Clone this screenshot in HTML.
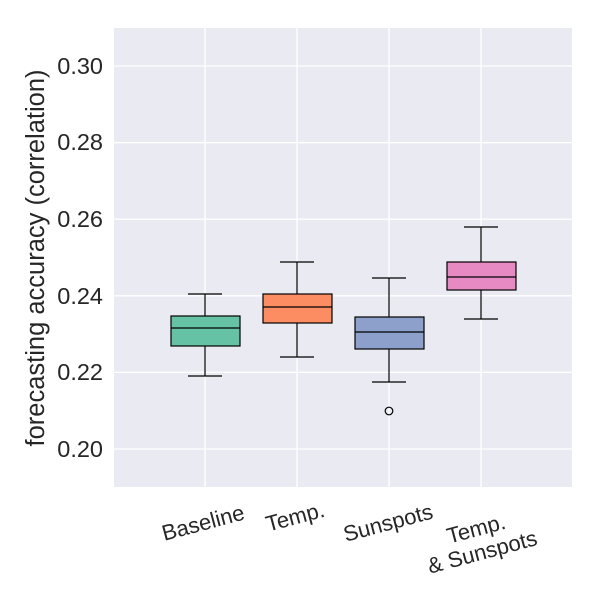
<!DOCTYPE html>
<html><head><style>body{margin:0;background:#fff}</style></head><body>
<svg width="600" height="600" xmlns="http://www.w3.org/2000/svg" font-family="Liberation Sans, sans-serif">
<rect x="114" y="28" width="458" height="459" fill="#eaeaf2"/>
<g stroke="#fff" stroke-width="1.3">
<line x1="114" x2="572" y1="66" y2="66"/><line x1="114" x2="572" y1="142.6" y2="142.6"/>
<line x1="114" x2="572" y1="219.2" y2="219.2"/><line x1="114" x2="572" y1="295.8" y2="295.8"/>
<line x1="114" x2="572" y1="372.4" y2="372.4"/><line x1="114" x2="572" y1="449" y2="449"/>
<line x1="205" x2="205" y1="28" y2="487"/><line x1="297" x2="297" y1="28" y2="487"/>
<line x1="389" x2="389" y1="28" y2="487"/><line x1="481" x2="481" y1="28" y2="487"/>
</g>
<g font-size="23.5" fill="#262626" text-anchor="end">
<text x="103" y="74">0.30</text><text x="103" y="150">0.28</text><text x="103" y="227">0.26</text>
<text x="103" y="304">0.24</text><text x="103" y="380">0.22</text><text x="103" y="457">0.20</text>
</g>
<text transform="translate(44,258) rotate(-90)" font-size="25.5" fill="#262626" text-anchor="middle">forecasting accuracy (correlation)</text>
<g stroke="#000" stroke-width="1.2">
<line x1="205" x2="205" y1="294" y2="316"/><line x1="205" x2="205" y1="346" y2="376"/>
<line x1="188" x2="222" y1="294" y2="294"/><line x1="188" x2="222" y1="376" y2="376"/>
<rect x="171" y="316" width="69" height="30" fill="#66c2a5"/><line x1="171" x2="240" y1="328" y2="328"/>
<line x1="297" x2="297" y1="262" y2="294"/><line x1="297" x2="297" y1="323" y2="357"/>
<line x1="280" x2="314" y1="262" y2="262"/><line x1="280" x2="314" y1="357" y2="357"/>
<rect x="263" y="294" width="69" height="29" fill="#fc8d62"/><line x1="263" x2="332" y1="307" y2="307"/>
<line x1="389" x2="389" y1="278" y2="317"/><line x1="389" x2="389" y1="349" y2="382"/>
<line x1="372" x2="406" y1="278" y2="278"/><line x1="372" x2="406" y1="382" y2="382"/>
<rect x="355" y="317" width="69" height="32" fill="#8da0cb"/><line x1="355" x2="424" y1="332" y2="332"/>
<circle cx="389" cy="411" r="3.8" fill="none"/>
<line x1="481" x2="481" y1="227" y2="262"/><line x1="481" x2="481" y1="290" y2="319"/>
<line x1="464" x2="498" y1="227" y2="227"/><line x1="464" x2="498" y1="319" y2="319"/>
<rect x="447" y="262" width="69" height="28" fill="#e78ac3"/><line x1="447" x2="516" y1="277" y2="277"/>
</g>
<g font-size="22" fill="#262626" text-anchor="middle">
<text transform="translate(205,530) rotate(-15)">Baseline</text>
<text transform="translate(297,524) rotate(-15)">Temp.</text>
<text transform="translate(390,530) rotate(-15)">Sunspots</text>
<text transform="translate(478,536) rotate(-15)"><tspan x="0" y="0">Temp.</tspan><tspan x="0" y="24">&amp; Sunspots</tspan></text>
</g>
</svg>
</body></html>
